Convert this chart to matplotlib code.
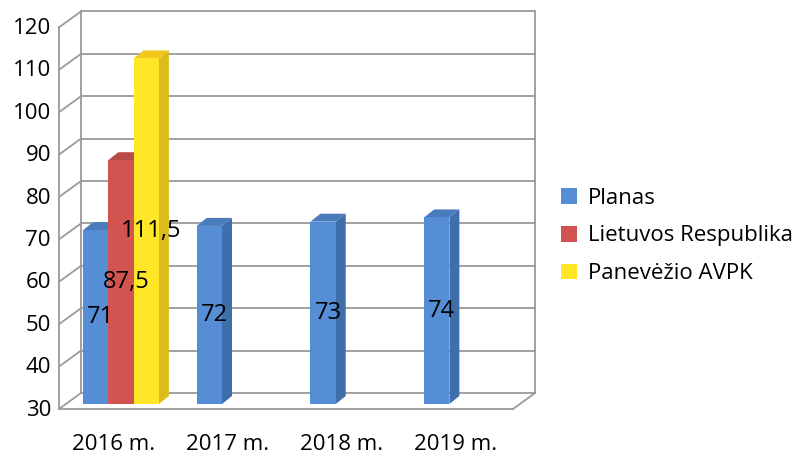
import matplotlib
matplotlib.use("Agg")
import matplotlib.pyplot as plt
from matplotlib.patches import Polygon, Rectangle, Patch

# ---------------- data ----------------
categories = ["2016 m.", "2017 m.", "2018 m.", "2019 m."]
series_names = ["Planas", "Lietuvos Respublika", "Panevėžio AVPK"]
planas = [71, 72, 73, 74]
lietuvos = [87.5, None, None, None]
avpk = [111.5, None, None, None]
value_labels = {
    "Planas": ["71", "72", "73", "74"],
    "Lietuvos Respublika": ["87,5", None, None, None],
    "Panevėžio AVPK": ["111,5", None, None, None],
}
y_ticks = [30, 40, 50, 60, 70, 80, 90, 100, 110, 120]

# ---------------- style ----------------
FONT = ["Open Sans", "DejaVu Sans"]
plt.rcParams["font.family"] = FONT
W, H = 803, 455
PX = 113.7   # pixels per category
PY = 4.24    # pixels per value unit
X0PIX, Y30PIX = 83, 404   # pixel position of category 0 / value 30 on the bar plane

front_cols = ["#558ED5", "#D25451", "#FFE626"]
side_cols = ["#3F6FAA", "#A8403D", "#DDBB1C"]
top_cols = ["#4A7CBC", "#B84B48", "#F2C81C"]
grid_col = "#9A9A9A"

def dx(p):
    return p / PX

def dy(p):
    return p / PY

fig = plt.figure(figsize=(W / 100, H / 100), dpi=100)
ax = fig.add_axes([0, 0, 1, 1])
ax.set_xlim(-X0PIX / PX, (W - X0PIX) / PX)
ax.set_ylim(30 - (H - Y30PIX) / PY, 30 + Y30PIX / PY)
ax.axis("off")

vmin, vmax = y_ticks[0], y_ticks[-1]
xl, xr = dx(66 - X0PIX), dx(520 - X0PIX)     # wall extents on the bar plane
bx, by = dx(15), dy(11)                      # back-wall offset
fx, fy = dx(-7), dy(-5)                      # front-edge offset
lw = 1.3

# back wall gridlines + left side diagonals
for v in y_ticks:
    ax.plot([xl + bx, xr + bx], [v + by, v + by], color=grid_col, lw=lw, zorder=1)
    ax.plot([xl + bx, xl + fx], [v + by, v + fy], color=grid_col, lw=lw, zorder=1)
    ax.text(xl + fx - dx(8), v + fy - dy(1), str(v), ha="right", va="center",
            fontsize=16, color="#000000")
# verticals
ax.plot([xl + bx, xl + bx], [vmin + by, vmax + by], color=grid_col, lw=lw, zorder=1)
ax.plot([xr + bx, xr + bx], [vmin + by, vmax + by], color=grid_col, lw=lw, zorder=1)
ax.plot([xl + fx, xl + fx], [vmin + fy, vmax + fy], color=grid_col, lw=lw, zorder=1)
# floor
ax.plot([xl + fx, xr + fx], [vmin + fy, vmin + fy], color=grid_col, lw=lw, zorder=1)
ax.plot([xr + fx, xr + bx], [vmin + fy, vmin + by], color=grid_col, lw=lw, zorder=1)

# bars
bw = dx(25.3)
ddx, ddy = dx(10), dy(8)
all_series = [planas, lietuvos, avpk]
for j, vals in enumerate(all_series):
    labs = value_labels[series_names[j]]
    for i, v in enumerate(vals):
        if v is None:
            continue
        x0 = i + j * bw
        z = 3 + j
        ax.add_patch(Polygon([(x0 + bw, vmin), (x0 + bw + ddx, vmin + ddy),
                              (x0 + bw + ddx, v + ddy), (x0 + bw, v)],
                             closed=True, facecolor=side_cols[j], edgecolor="none", zorder=z))
        ax.add_patch(Polygon([(x0, v), (x0 + ddx, v + ddy),
                              (x0 + bw + ddx, v + ddy), (x0 + bw, v)],
                             closed=True, facecolor=top_cols[j], edgecolor="none", zorder=z))
        ax.add_patch(Rectangle((x0, vmin), bw, v - vmin, facecolor=front_cols[j],
                               edgecolor="none", zorder=z))
        if labs[i]:
            ax.text(x0 + bw / 2 + ddx / 2, (vmin + v) / 2, labs[i], ha="center",
                    va="center", fontsize=17, color="#000000", zorder=10)

# category labels
for i, c in enumerate(categories):
    ax.text(i + dx(31), vmin - dy(41), c, ha="center", va="center", fontsize=16, color="#000000")

# legend
handles = [Patch(facecolor=front_cols[k], edgecolor="none") for k in range(3)]
leg = ax.legend(handles, series_names, loc="center left",
                bbox_to_anchor=(561 / W, 1 - 236 / H), bbox_transform=fig.transFigure,
                frameon=False, fontsize=16, handlelength=0.7, handleheight=0.7,
                handletextpad=0.5, labelspacing=0.75, borderpad=0, borderaxespad=0)

fig.savefig("out.png", dpi=100)
